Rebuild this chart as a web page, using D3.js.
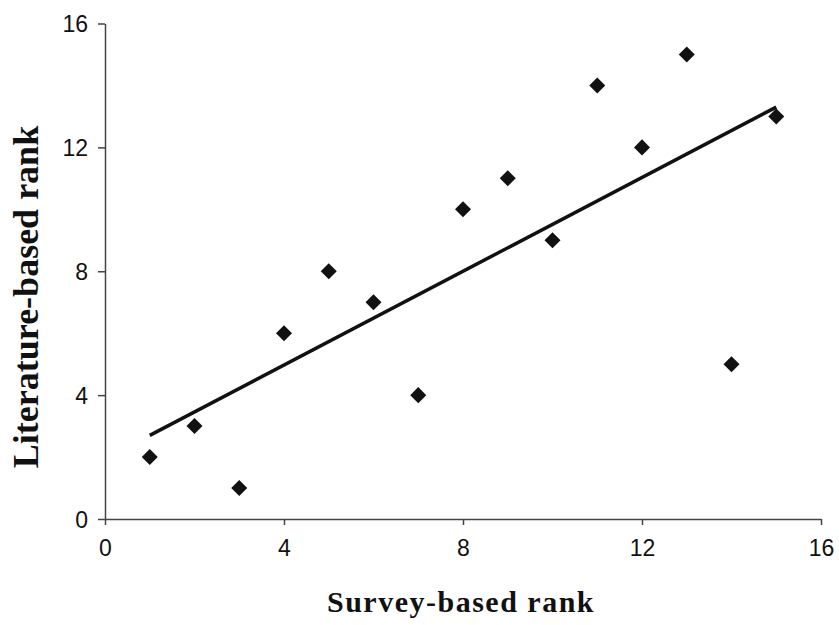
<!DOCTYPE html>
<html lang="en">
    <head>
        <meta charset="utf-8">
        <title>Survey vs literature rank</title>
        <script type="text/javascript" src="https://cdn.jsdelivr.net/npm/d3@7/dist/d3.min.js"></script>
        <style type="text/css">
           body { margin: 0; background: #fff; }
           .tick text {
               font-family: "Liberation Sans", Arial, sans-serif;
               font-size: 23px;
               fill: #111;
           }
           .title {
               font-family: "Liberation Serif", "Times New Roman", serif;
               font-weight: bold;
               fill: #111;
           }
        </style>
    </head>
    <body>
        <script type="text/javascript">

              var w = 839;
              var h = 625;

              // survey-based rank (x) and literature-based rank (y)
              var surveyRank = [1, 2, 3, 4, 5, 6, 7, 8, 9, 10, 11, 12, 13, 14, 15];
              var literatureRank = [2, 3, 1, 6, 8, 7, 4, 10, 11, 9, 14, 12, 15, 5, 13];
              var tickValues = [0, 4, 8, 12, 16];

              var x = d3.scaleLinear().domain([0, 16]).range([105, 821]);
              var y = d3.scaleLinear().domain([0, 16]).range([519, 23.5]);

              var svg = d3.select("body")
                          .append("svg")
                          .attr("width", w)
                          .attr("height", h);

              var xAxis = svg.append("g")
                  .attr("transform", "translate(0," + y(0) + ")")
                  .call(d3.axisBottom(x).tickValues(tickValues).tickSizeInner(6).tickSizeOuter(0).tickPadding(15));

              var yAxis = svg.append("g")
                  .attr("transform", "translate(" + x(0) + ",0)")
                  .call(d3.axisLeft(y).tickValues(tickValues).tickSizeInner(7).tickSizeOuter(0).tickPadding(10));

              svg.selectAll(".domain, .tick line")
                  .attr("stroke", "#444")
                  .attr("stroke-width", 1.5);
              yAxis.selectAll(".tick text").attr("dy", "0.36em");

              // least squares trend line
              var mx = d3.mean(surveyRank), my = d3.mean(literatureRank);
              var sxy = d3.sum(surveyRank, function(v, i) { return (v - mx) * (literatureRank[i] - my); });
              var sxx = d3.sum(surveyRank, function(v) { return (v - mx) * (v - mx); });
              var slope = sxy / sxx;
              var intercept = my - slope * mx;
              var xExt = d3.extent(surveyRank);

              svg.append("line")
                  .attr("x1", x(xExt[0]))
                  .attr("y1", y(intercept + slope * xExt[0]))
                  .attr("x2", x(xExt[1]))
                  .attr("y2", y(intercept + slope * xExt[1]))
                  .attr("stroke", "#111")
                  .attr("stroke-width", 3.5);

              var diamond = d3.symbol().type(d3.symbolSquare).size(128);

              svg.selectAll("path.pt")
                  .data(surveyRank)
                  .enter()
                  .append("path")
                  .attr("class", "pt")
                  .attr("d", diamond)
                  .attr("fill", "#111")
                  .attr("transform", function(d, i) {
                      return "translate(" + x(d) + "," + y(literatureRank[i]) + ") rotate(45)";
                  });

              svg.append("text")
                  .attr("class", "title")
                  .attr("x", 461)
                  .attr("y", 612)
                  .attr("text-anchor", "middle")
                  .style("font-size", "30px")
                  .style("letter-spacing", "1.5px")
                  .text("Survey-based rank");

              svg.append("text")
                  .attr("class", "title")
                  .attr("transform", "translate(38,297) rotate(-90)")
                  .attr("text-anchor", "middle")
                  .style("font-size", "36px")
                  .text("Literature-based rank");

        </script>
    </body>
</html>
